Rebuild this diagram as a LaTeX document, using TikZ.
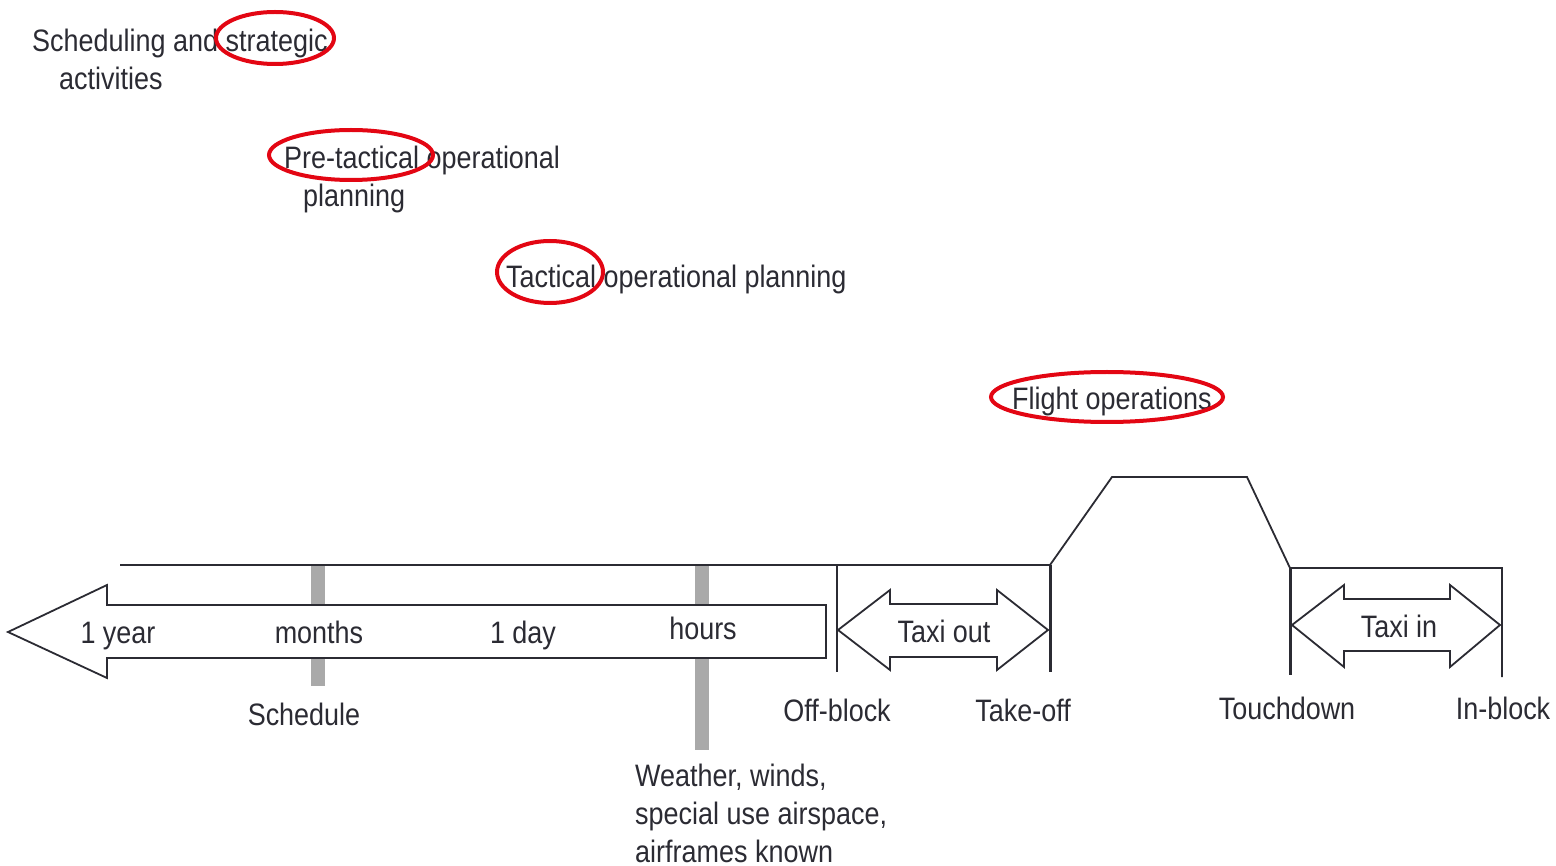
\documentclass[tikz,border=0pt]{standalone}
\usepackage{fontspec}
\setmainfont[FakeStretch=0.87]{Liberation Sans}
\definecolor{ink}{HTML}{2B2B33}
\definecolor{ringred}{HTML}{E30613}
\definecolor{bargrey}{HTML}{A9A9A9}
\begin{document}
\begin{tikzpicture}[x=1pt,y=-1pt,
  lbl/.style={font=\fontsize{31}{38}\selectfont, text=ink, inner sep=0pt},
  ring/.style={draw=ringred, line width=4pt},
  edge/.style={draw=ink, line width=1.8pt, line join=miter},
  post/.style={draw=ink, line width=3pt},
  marker/.style={fill=bargrey}]
\useasboundingbox (0,0) rectangle (1556,866);

% planning horizons
\node[lbl, anchor=base west] (strat1) at (32,52) {Scheduling and strategic};
\node[lbl, anchor=base west] (strat2) at (59,90) {activities};
\node[lbl, anchor=base west] (pre1) at (284,169) {Pre-tactical operational};
\node[lbl, anchor=base west] (pre2) at (303,207) {planning};
\node[lbl, anchor=base west] (tact) at (506,288) {Tactical operational planning};
\node[lbl, anchor=base west] (flight) at (1012,410) {Flight operations};

% grey time markers (behind the time arrow)
\fill[marker] (311,565) rectangle (325,686);
\fill[marker] (695,565) rectangle (709,750);

% baseline above the time arrow
\coordinate (l0) at (120,565);
\coordinate (offtop) at (837,565);
\coordinate (toftop) at (1050,565);
\draw[edge] (l0) -- (offtop) -- (toftop);

% time arrow pointing back in time
\draw[edge, fill=white] (826,605) -- (107,605) -- (107,585) -- (8,632) -- (107,678) -- (107,658) -- (826,658) -- cycle;

% flight profile
\coordinate (climb) at (1112,477);
\coordinate (cruise) at (1247,477);
\coordinate (tdtop) at (1290,568);
\coordinate (ibtop) at (1502,568);
\draw[edge] (toftop) -- (climb) -- (cruise) -- (tdtop) -- (ibtop) -- (1502,677);

% event posts
\draw[edge] (offtop) -- (837,672);
\draw[post] (toftop) -- (1050,672);
\draw[post] (tdtop) -- (1290,675);

% taxi arrows
\draw[edge, fill=white] (838,630) -- (890,590) -- (890,604) -- (997,604) -- (997,590) -- (1048,630) -- (997,670) -- (997,657) -- (890,657) -- (890,670) -- cycle;
\draw[edge, fill=white] (1292,625) -- (1344,585) -- (1344,599) -- (1450,599) -- (1450,585) -- (1500,625) -- (1450,667) -- (1450,651) -- (1344,651) -- (1344,667) -- cycle;

% arrow labels
\node[lbl, anchor=base] (year) at (118,643) {1 year};
\node[lbl, anchor=base] (months) at (319,643) {months};
\node[lbl, anchor=base] (day) at (523,643) {1 day};
\node[lbl, anchor=base] (hours) at (703,639) {hours};
\node[lbl, anchor=base] (taxiout) at (944,642) {Taxi out};
\node[lbl, anchor=base] (taxiin) at (1399,637) {Taxi in};

% event labels
\node[lbl, anchor=base] (sched) at (304,725) {Schedule};
\node[lbl, anchor=base] (offb) at (837,721) {Off-block};
\node[lbl, anchor=base] (tof) at (1023,721) {Take-off};
\node[lbl, anchor=base] (td) at (1287,719) {Touchdown};
\node[lbl, anchor=base] (inb) at (1503,719) {In-block};
\node[lbl, anchor=north west, align=left] (wx) at (635,764) {Weather, winds,\\special use airspace,\\airframes known};

% highlight rings
\draw[ring] (275,38) ellipse [x radius=59pt, y radius=26pt];
\draw[ring] (351,155) ellipse [x radius=82pt, y radius=25pt];
\draw[ring] (550,272) ellipse [x radius=53pt, y radius=31pt];
\draw[ring] (1107,397) ellipse [x radius=116pt, y radius=25pt];
\end{tikzpicture}
\end{document}
